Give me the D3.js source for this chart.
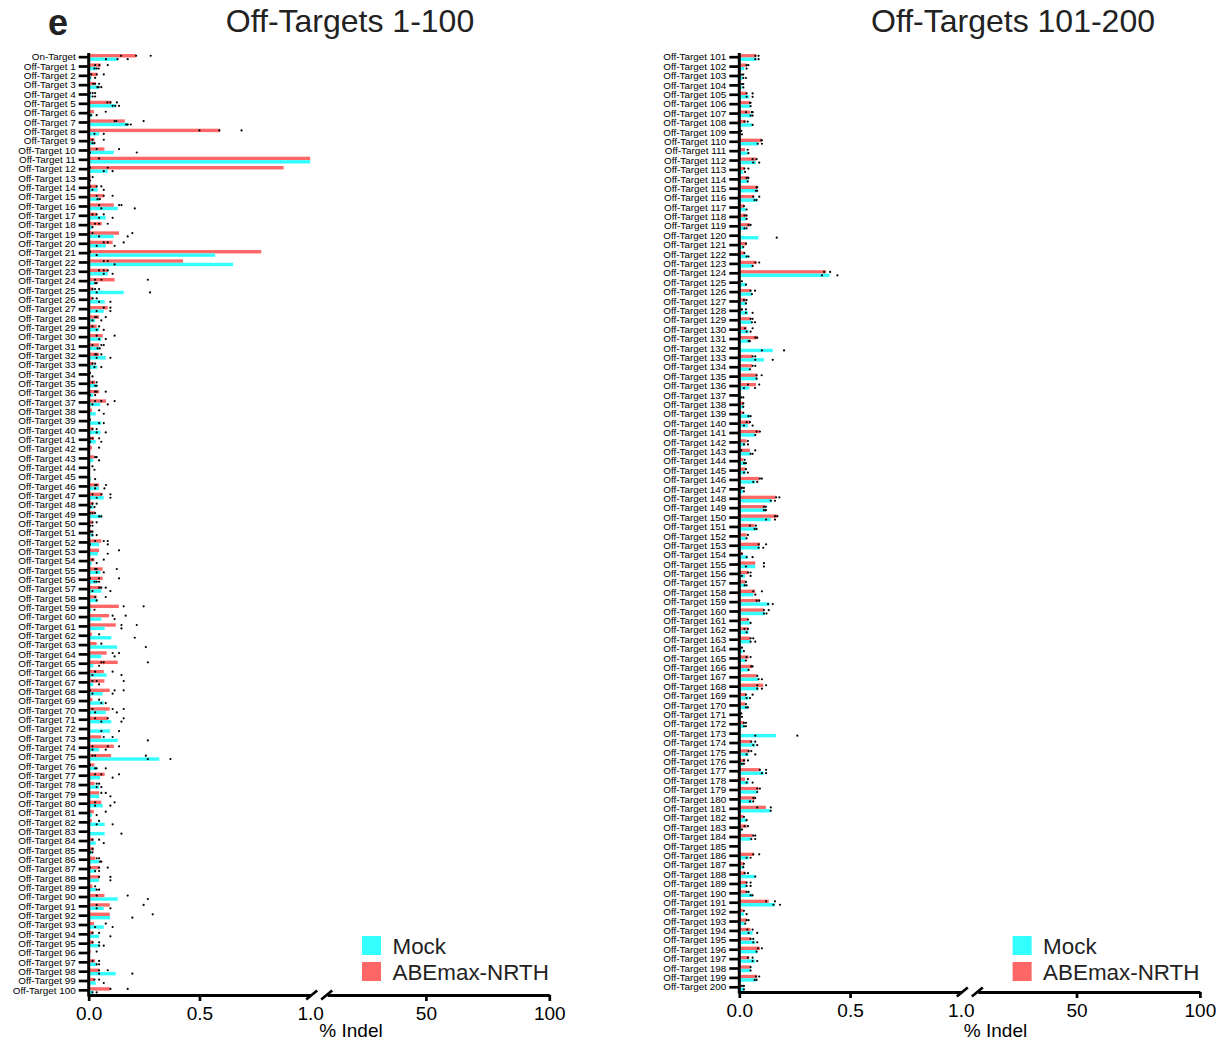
<!DOCTYPE html>
<html>
<head>
<meta charset="utf-8">
<script src="https://cdn.jsdelivr.net/npm/d3@7"></script>
<style>
body { margin: 0; background: #fff; }
text { font-family: Arial, "Liberation Sans", Helvetica, sans-serif; }
</style>
</head>
<body>
<div id="chart"></div>
<script>
// row labels: On-Target, Off-Target 1..200
var labels = ["On-Target"].concat(d3.range(1, 201).map(function(i) { return "Off-Target " + i; }));

var series = ["Mock", "ABEmax-NRTH"];

// mean % indel, ABEmax-NRTH (rows 0..200)
var abeMean = [
  .214,.054,.039,.032,.006,.102,.023,.163,.593,.026,
  .071,1.5,.88,.009,.036,.068,.113,.036,.059,.137,
  .108,.779,.426,.086,.117,.021,.017,.086,.047,.036,
  .063,.047,.047,.021,0,.029,.047,.078,.015,.003,
  .021,.024,.015,.026,.003,0,.047,.062,.021,.029,
  .017,.017,.057,.047,.026,.063,.063,.057,.036,.136,
  .092,.122,.014,.036,.081,.131,.068,.071,.095,.017,
  .095,.086,0,.057,.113,.101,.026,.072,.026,.047,
  .057,.023,.014,0,.021,.023,.029,.047,.047,.017,
  .071,.095,.095,.024,.021,.021,.009,.029,.047,.024,
  .095,
  .078,.033,.006,.006,.033,.048,.048,.029,.006,.101,
  .026,.075,.023,.041,.081,.066,.021,.033,.048,0,
  .033,.023,.078,.392,.006,.051,.03,.012,.051,.033,
  .081,0,.057,.057,.081,.075,0,.018,.015,.048,
  .09,.033,.048,.018,.027,.09,.015,.163,.117,.172,
  .069,.033,.093,.015,.072,.042,.027,.072,.093,.111,
  .039,.039,.048,.009,.042,.057,.078,.108,.03,.026,
  .006,.021,0,.054,.045,.027,.093,.026,.087,.072,
  .12,.018,.033,.06,0,.066,.021,.027,.033,.03,
  .133,.018,.033,.051,.051,.093,.045,.051,.081,.006
];

// mean % indel, Mock (rows 0..200)
var mockMean = [
  .13,.036,.012,.047,.012,.122,.017,.179,.047,.026,
  .113,1.5,.086,.003,.041,.047,.131,.077,.017,.113,
  .077,.571,.652,.086,.026,.158,.072,.068,.029,.047,
  .057,.047,.077,.039,.003,.039,.021,.053,.032,.057,
  .053,.032,0,.021,.006,.009,.047,.068,.021,.057,
  .006,.021,.047,.041,.014,.053,.039,.057,.039,.011,
  .057,.072,.102,.128,.057,.021,.081,.021,.063,.068,
  .077,.102,.096,.131,.047,.319,.036,.051,.047,.047,
  .063,.015,.072,.072,.032,.017,.047,.033,.047,.032,
  .131,.068,.096,.068,.047,.047,.003,.036,.122,.032,
  .021,
  .078,.023,.015,.012,.045,.048,.056,.056,.006,.086,
  .038,.075,.018,.041,.081,.081,.03,.03,.03,.086,
  .018,.042,.06,.407,.033,.057,.03,.039,.057,.042,
  .048,.151,.111,.048,.081,.045,.009,.018,.048,.039,
  .072,.027,.051,.03,.03,.072,.018,.148,.12,.142,
  .078,.03,.093,.039,.072,.026,.03,.063,.136,.117,
  .048,.042,.051,.015,.027,.042,.087,.087,.042,.039,
  .006,.024,.166,.072,.042,.018,.111,.042,.081,.057,
  .142,.033,.012,.054,0,.042,.018,.072,.033,.06,
  .161,.021,.024,.06,.072,.081,.072,.051,.078,.021
];

// replicate points, ABEmax-NRTH
var abeDots = [
  [.146,.214,.28],[.029,.048,.086],[.012,.036,.068],[.02,.029,.047],[.006,.018,.029],
  [.084,.098,.127],[0,.077],[.117,.125,.248],[.5,.59,.69],[.017,.068],
  [.036,.137],[.047],[.006,.086],[.018],[.006,.036,.057],
  [.036,.068,.108],[.047,.137,.148],[.017,.036,.068],[.029,.047,.086],[.017,.197],
  [.068,.086,.158],[.006],[.068,.086],[.047,.068,.086],[.029,.057,.267],
  [.017,.029,.047],[.018,.036],[.068,.098],[.029,.036,.077],[.017,.047],
  [.036,.117],[.017,.057,.068],[.029,.036,.057],[.017,.029],[.006],
  [.017,.036],[.029,.036,.077],[.029,.057,.117],[.047],[.006],
  [.017,.036],[.006,.017,.047],[.047],[.029,.036],[.017],
  [],[.029,.036,.078],[.017,.057,.098],[.017,.036],[.006,.017,.029],
  [.017,.036],[.009,.017],[.029,.068,.086],[.137],[.017,.068],
  [.029,.036,.127],[.006,.047,.137],[.047,.057,.077],[.029,.077],[.158,.248],
  [.108,.167],[.148,.217],[.047],[.057],[.108,.137],
  [.057,.068,.267],[.029,.108],[.017,.036,.158],[.006,.117,.158],[.047],
  [.017,.108,.158],[.029,.086,.158],[],[.068,.108],[.017,.086,.137],
  [.017,.029,.258],[.006],[.029,.057,.137],[.036,.047],[.057,.077],
  [.029,.117],[.077],[.047],[],[.017,.047],
  [.017],[.036,.047],[.006,.047,.086],[.047,.098],[.029],
  [.036,.176],[.036,.248],[.289],[.077],[.017,.047],
  [.017,.047],[.036],[.017,.047],[.047,.086],[.026,.047],
  [.098,.176],
  [.072,.087],[.033,.041],[.012,.018],[.012,.018],[.033,.06],
  [.048,.051],[.03,.056,.06],[.023,.038],[.009],[.099,.102],
  [.038],[.06,.078],[.023,.041],[.033,.041],[.078,.081],
  [.063,.09],[.021],[.023,.033],[.041,.051],[],
  [.03],[.023],[.072,.09],[.383,.41],[.012],
  [.051,.071],[.021,.033],[.012,.03],[.051,.06],[.026,.06],
  [.072,.081],[],[.06,.072],[.06,.072],[.078,.101],
  [.039,.09],[],[.018],[.018],[.033,.048],
  [.078,.093],[.039],[.009,.072],[.024],[.03],
  [.093,.102],[.012,.021],[.166,.181],[.111,.12],[.161,.172],
  [.048,.075],[.039],[.087,.121],[.012],[.111],
  [.039,.051],[.03],[.063,.102],[.078,.09],[.111,.133],
  [.039],[.023,.039],[.051,.063],[.012],[.033,.051],
  [.054,.06],[.081],[.081,.121],[.03,.06],[.03],
  [.009],[.021,.03],[],[.054,.072],[.042,.054],
  [.021,.039],[.093,.121],[.039],[.081,.093],[.063,.072],
  [.081,.142],[.021],[.024,.039],[.063,.072],[],
  [.063,.09],[.021],[.024,.039],[.033,.051],[.033,.042],
  [.121,.161],[.021],[.033,.042],[.036,.06],[.051,.063],
  [.084,.102],[.039,.06],[.051],[.075,.09],[.012,.021]
];

// replicate points, Mock
var mockDots = [
  [.078,.13,.176],[.026,.036,.045],[.004,.029],[.039,.045,.057],[0,.018,.029],
  [.108,.12,.137],[.01,.036],[.169,.176,.19],[.026,.068],[.017,.026],
  [.006,.217],[],[.068,.108],[.006],[.017,.068],
  [.04,.05],[.057,.208],[.047,.108],[.017],[.047,.176],
  [.036,.117],[.036],[.117],[.068,.108],[.029,.036],
  [.036,.277],[.047,.098],[.036,.098],[.017,.057],[.036,.068],
  [.047,.077],[.04,.05],[.036,.098],[.026,.057],[.017],
  [.029,.036],[.006,.029],[.017,.086],[.068],[.047,.068],
  [.036,.077],[.006,.057],[],[.047],[.026],
  [.029],[.029,.071],[.036,.098],[.009,.026],[.047,.057],
  [.006,.017],[.017,.036],[.006,.086],[.086],[.036],
  [.036,.068],[.026,.036,.047],[.017,.098],[.036],[.026],
  [.117],[.148],[.208],[.258],[.117],
  [.047],[.017,.148],[.047],[.017,.108],[.057,.077],
  [.029,.127],[.057,.148],[.057,.137],[.267],[.017,.077],
  [.267,.369],[.029,.036,.077],[.108],[.036,.057],[.098],
  [.029,.098],[.036],[.036,.108],[.148],[.068],
  [.006,.017],[.051,.057],[.029,.047],[.098],[.036,.047],
  [.267],[.036,.098],[.197],[.029,.108],[.098],
  [.047,.068],[],[.036,.047],[.047,.197],[.068],
  [.017,.036],
  [.072,.087],[.033],[.018,.03],[.018],[.033,.06],
  [.051],[.051,.06],[.06],[.012],[.083,.102],
  [.041],[.063,.09],[.026],[.038],[.075,.081],
  [.069,.078],[.033],[.033],[.023,.033],[.169],
  [.018],[.033,.042],[.06],[.373,.443],[.03],
  [.057],[.03],[.03,.06],[.057,.071],[.033,.051],
  [.042,.048],[.102,.202],[.072,.151],[.048],[.078],
  [.021,.071],[.009,.018],[.018],[.041,.051],[.021,.06],
  [.072],[.021,.039],[.051,.06],[.021,.03],[.021,.039],
  [.063,.081],[.021],[.142,.161],[.111,.12],[.121,.161],
  [.069,.078],[.033],[.087,.108],[.033,.06],[.03,.111],
  [.012,.051],[.024,.033],[.072],[.13,.151],[.111,.123],
  [.051],[.033],[.051,.072],[.021],[.03],
  [.042],[.087,.102],[.081,.102],[.033,.048],[.03,.039],
  [.012],[.021,.03],[.072,.262],[.063,.081],[.033,.072],
  [.012,.021],[.102,.121],[.033,.06],[.081],[.048,.063],
  [.142],[.033],[.012],[.054,.072],[],
  [.033,.051],[.018],[.072],[.033,.051],[.051,.06],
  [.154,.184],[.033],[.027],[.042,.081],[.063,.081],
  [.078],[.06,.081],[.051],[.069,.078],[.021]
];

var CYAN = "#33FFFF";
var RED = "#FF6666";

var svg = d3.select("#chart").append("svg")
    .attr("width", 1222)
    .attr("height", 1040);

svg.append("text")
    .text("e")
    .attr("x", 48)
    .attr("y", 35)
    .style("font-size", "36px")
    .style("font-weight", "bold")
    .attr("fill", "#222");

draw_panel({ x0: 88.7, top: 52.5, bottom: 995, lo: 0, hi: 100,
  title: "Off-Targets 1-100", titleX: 350, labelX: 351 });
draw_panel({ x0: 739.3, top: 52.5, bottom: 992, lo: 101, hi: 200,
  title: "Off-Targets 101-200", titleX: 1013, labelX: 995.5 });

function draw_panel(p) {
    var rows = d3.range(p.lo, p.hi + 1);
    var x0 = p.x0;

    var y = d3.scaleBand().domain(rows).range([p.top, p.bottom]);
    var xa = d3.scaleLinear().domain([0, 1]).range([x0, x0 + 221.5]);
    var xb = d3.scaleLinear().domain([10, 100]).range([x0 + 238.5, x0 + 460.6]);

    var g = svg.append("g");
    var bh = 3.4;
    function mid(d) { return y(d) + y.bandwidth() / 2 + 0.3; }
    function clip(v) { return Math.min(v, 1); }

    // bars: ABEmax-NRTH above, Mock below
    g.selectAll(".abe").data(rows).enter().append("rect")
        .attr("x", x0)
        .attr("y", function(d) { return mid(d) - bh; })
        .attr("width", function(d) { return xa(clip(abeMean[d])) - x0; })
        .attr("height", bh)
        .attr("fill", RED);

    g.selectAll(".mock").data(rows).enter().append("rect")
        .attr("x", x0)
        .attr("y", function(d) { return mid(d); })
        .attr("width", function(d) { return xa(clip(mockMean[d])) - x0; })
        .attr("height", bh)
        .attr("fill", CYAN);

    // replicate dots
    var pts = [];
    rows.forEach(function(r) {
        abeDots[r].forEach(function(v) { if (v <= 1) pts.push({ r: r, v: v, off: -bh / 2 }); });
        mockDots[r].forEach(function(v) { if (v <= 1) pts.push({ r: r, v: v, off: bh / 2 }); });
    });
    g.selectAll(".dot").data(pts).enter().append("circle")
        .attr("cx", function(d) { return xa(d.v); })
        .attr("cy", function(d) { return mid(d.r) + d.off; })
        .attr("r", 1.1)
        .attr("fill", "#000");

    // y axis
    var ya = g.append("g")
        .attr("transform", "translate(" + x0 + ",0)")
        .call(d3.axisLeft(y)
            .tickFormat(function(d) { return labels[d]; })
            .tickSize(10).tickPadding(3).tickSizeOuter(0));
    ya.select(".domain").attr("stroke", "#000").attr("stroke-width", 3)
        .attr("d", "M0," + (p.top + 0.5) + "V" + (p.bottom + 1.5));
    ya.selectAll(".tick line").attr("stroke", "#000").attr("stroke-width", 2.7);
    ya.selectAll(".tick text").style("font-size", "9.9px").attr("fill", "#000");

    // x axis, broken
    var axA = g.append("g")
        .attr("transform", "translate(0," + p.bottom + ")")
        .call(d3.axisBottom(xa).tickValues([0, 0.5, 1])
            .tickFormat(d3.format(".1f")).tickSize(6).tickPadding(5.5).tickSizeOuter(0));
    axA.selectAll(".tick").filter(function(d) { return d === 1; }).select("line").remove();

    var axB = g.append("g")
        .attr("transform", "translate(0," + p.bottom + ")")
        .call(d3.axisBottom(xb).tickValues([50, 100])
            .tickSize(6).tickPadding(5.5).tickSizeOuter(0));

    [axA, axB].forEach(function(ax) {
        ax.select(".domain").attr("stroke", "#000").attr("stroke-width", 3);
        ax.selectAll(".tick line").attr("stroke", "#000").attr("stroke-width", 2.7);
        ax.selectAll(".tick text").style("font-size", "19px").attr("fill", "#000");
    });

    // break marks
    [xa(1) + 1.5, xb(10) - 0.5].forEach(function(cx) {
        g.append("line")
            .attr("x1", cx - 5.5).attr("y1", p.bottom + 4.5)
            .attr("x2", cx + 5.5).attr("y2", p.bottom - 4.5)
            .attr("stroke", "#000").attr("stroke-width", 2.7);
    });

    g.append("text")
        .text("% Indel")
        .attr("x", p.labelX)
        .attr("y", 1037)
        .attr("text-anchor", "middle")
        .style("font-size", "19px");

    g.append("text")
        .text(p.title)
        .attr("x", p.titleX)
        .attr("y", 32)
        .attr("text-anchor", "middle")
        .style("font-size", "32px")
        .attr("fill", "#222");

    // legend
    var lg = g.selectAll(".legend").data(series).enter().append("g")
        .attr("transform", function(d, i) { return "translate(" + (x0 + 273.3) + "," + (936 + i * 26) + ")"; });
    lg.append("rect")
        .attr("width", 19).attr("height", 19)
        .attr("fill", function(d, i) { return i === 0 ? CYAN : RED; });
    lg.append("text")
        .text(function(d) { return d; })
        .attr("x", 30.5)
        .attr("y", 18)
        .style("font-size", "22.4px")
        .attr("fill", "#222");
}
</script>
</body>
</html>
